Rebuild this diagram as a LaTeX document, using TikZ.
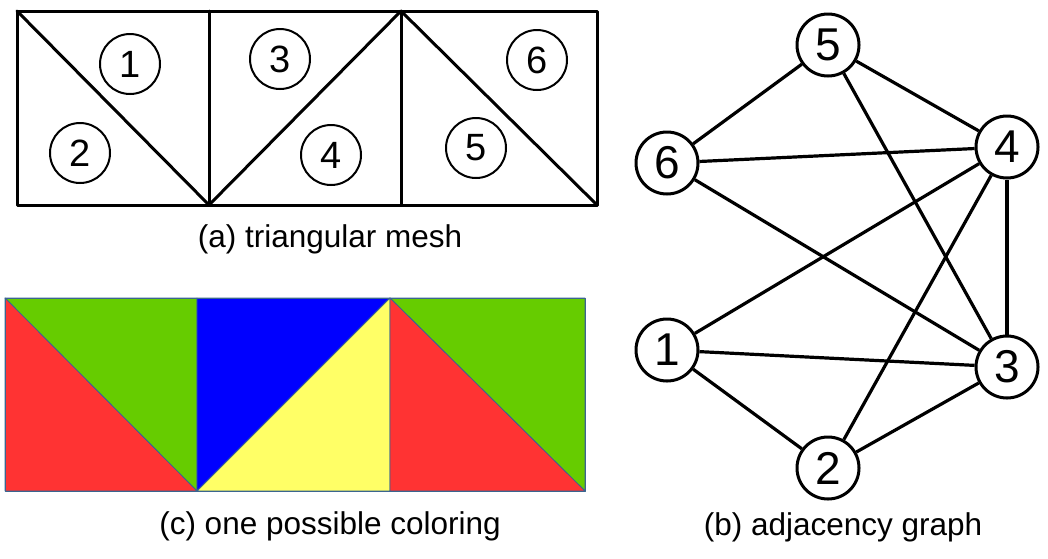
\documentclass[tikz,border=0pt]{standalone}
\usepackage{fontspec}
\setmainfont{Liberation Sans}
\definecolor{cgreen}{HTML}{66CC00}
\definecolor{cred}{HTML}{FF3333}
\definecolor{cblue}{HTML}{0000FF}
\definecolor{cyellow}{HTML}{FFFF66}
\definecolor{cedge}{HTML}{3A6590}
\begin{document}
\begin{tikzpicture}[x=1pt,y=-1pt,
  meshline/.style={line width=3pt,line cap=round,line join=round},
  tri/.style={circle,draw,line width=2pt,minimum size=60pt,inner sep=0pt,font=\fontsize{38}{38}\selectfont},
  gnode/.style={circle,draw,line width=3pt,minimum size=62pt,inner sep=0pt,font=\fontsize{46}{46}\selectfont},
  gedge/.style={line width=3.2pt},
  captext/.style={font=\fontsize{31.5}{32}\selectfont},
  patch/.style={draw=cedge,line width=0.8pt,line join=round}]
\useasboundingbox (0,0) rectangle (1048,558);
% (a) triangular mesh
\coordinate (a1) at (17,11); \coordinate (a2) at (209,11); \coordinate (a3) at (401,11); \coordinate (a4) at (597,11);
\coordinate (b1) at (17,205); \coordinate (b2) at (209,205); \coordinate (b3) at (401,205); \coordinate (b4) at (597,205);
\draw[meshline] (a1) rectangle (b4);
\draw[meshline] (a2) -- (b2) (a3) -- (b3);
\draw[meshline] (a1) -- (b2) -- (a3) -- (b4);
\node[tri] (t1) at (130,64) {1};
\node[tri] (t2) at (80,153) {2};
\node[tri] (t3) at (280,59) {3};
\node[tri] (t4) at (331,155) {4};
\node[tri] (t5) at (476,148) {5};
\node[tri] (t6) at (537,60) {6};
\node[captext] (capa) at (330,239) {(a) triangular mesh};
% (c) coloring
\coordinate (c1) at (5,298); \coordinate (c2) at (197,298); \coordinate (c3) at (390,298); \coordinate (c4) at (585,298);
\coordinate (d1) at (5,491); \coordinate (d2) at (197,491); \coordinate (d3) at (390,491); \coordinate (d4) at (585,491);
\filldraw[patch,fill=cgreen] (c1) -- (c2) -- (d2) -- cycle;
\filldraw[patch,fill=cred] (c1) -- (d2) -- (d1) -- cycle;
\filldraw[patch,fill=cblue] (c2) -- (c3) -- (d2) -- cycle;
\filldraw[patch,fill=cyellow] (c3) -- (d3) -- (d2) -- cycle;
\filldraw[patch,fill=cgreen] (c3) -- (c4) -- (d4) -- cycle;
\filldraw[patch,fill=cred] (c3) -- (d4) -- (d3) -- cycle;
\draw[patch] (c1) rectangle (d4);
\node[captext] (capc) at (330,526) {(c) one possible coloring};
% (b) adjacency graph
\node[gnode] (n5) at (828,45) {5};
\node[gnode] (n4) at (1007,147) {4};
\node[gnode] (n6) at (667,163) {6};
\node[gnode] (n1) at (667,350) {1};
\node[gnode] (n3) at (1007,367) {3};
\node[gnode] (n2) at (828,468) {2};
\draw[gedge] (n5) -- (n6);
\draw[gedge] (n5) -- (n4);
\draw[gedge] (n5) -- (n3);
\draw[gedge] (n6) -- (n4);
\draw[gedge] (n6) -- (n3);
\draw[gedge] (n4) -- (n1);
\draw[gedge] (n4) -- (n2);
\draw[gedge] (n4) -- (n3);
\draw[gedge] (n1) -- (n3);
\draw[gedge] (n1) -- (n2);
\draw[gedge] (n2) -- (n3);
\node[captext] (capb) at (843,527) {(b) adjacency graph};
\end{tikzpicture}
\end{document}
